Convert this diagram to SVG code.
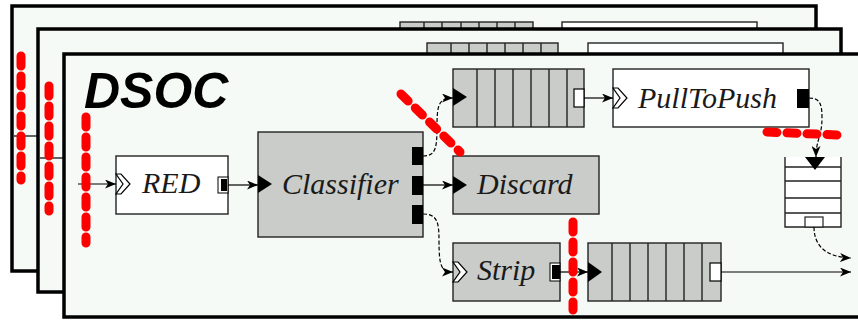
<svg xmlns="http://www.w3.org/2000/svg" width="858" height="320" viewBox="0 0 858 320">
<defs>
<style>
.frame{fill:#f6faf7;stroke:#000;stroke-width:3.5}
.gray{fill:#c9ccc9;stroke:#222;stroke-width:1.4}
.white{fill:#fff;stroke:#222;stroke-width:1.4}
.div{stroke:#222;stroke-width:1.4}
.lbl{font-family:"Liberation Serif",serif;font-style:italic;font-size:30px;fill:#1a1a1a}
.conn{fill:none;stroke:#000;stroke-width:1.2;marker-end:url(#arr)}
.dash{stroke-dasharray:4 2}
.red{fill:none;stroke:#ff0000;stroke-width:9;stroke-linecap:round;stroke-dasharray:10 10}
.pin{fill:#000}
.chev{fill:#fff;stroke:#000;stroke-width:1.2}
</style>
<marker id="arr" viewBox="0 0 11 9" refX="11" refY="4.5" markerWidth="11" markerHeight="9" markerUnits="userSpaceOnUse" orient="auto">
<path d="M0,0 L11,4.5 L0,9 L3,4.5 z" fill="#000"/>
</marker>
</defs>

<!-- back frame 1 -->
<g id="frame1">
<rect class="frame" x="12" y="6" width="804" height="265"/>
<rect class="gray" x="400" y="22" width="133" height="30"/>
<path class="div" d="M424,22V52M442,22V52M461,22V52M479,22V52M497,22V52M515,22V52"/>
<rect class="white" x="562" y="22" width="195" height="30"/>
<line x1="14" y1="136" x2="38" y2="136" stroke="#000" stroke-width="1.2"/>
</g>

<!-- back frame 2 -->
<g id="frame2">
<rect class="frame" x="38" y="29" width="803" height="263"/>
<rect class="gray" x="427" y="43" width="131" height="30"/>
<path class="div" d="M451,43V73M469,43V73M487,43V73M505,43V73M523,43V73M541,43V73"/>
<rect class="white" x="588" y="43" width="195" height="30"/>
<line x1="40" y1="158" x2="64" y2="158" stroke="#000" stroke-width="1.2"/>
</g>

<!-- front frame 3 -->
<g id="frame3">
<rect class="frame" x="64" y="54" width="820" height="263"/>
<text x="84" y="108" font-family="Liberation Sans, Arial, sans-serif" font-weight="bold" font-style="italic" font-size="50" fill="#000">DSOC</text>
</g>

<g id="RED">
<rect class="white" x="116" y="156" width="112" height="58"/>
<path class="chev" d="M116,174 L121,174 L130,184 L121,194 L116,194 L123,184 z"/>
<rect x="218" y="177" width="10" height="16" fill="#fff" stroke="#000" stroke-width="1"/>
<rect class="pin" x="221" y="179" width="6" height="12"/>
<text class="lbl" x="142" y="193">RED</text>
</g>

<g id="Classifier">
<rect class="gray" x="258" y="132" width="165" height="105"/>
<path class="pin" d="M258,175 L272,184 L258,193 z"/>
<rect class="pin" x="412" y="147" width="11" height="18"/>
<rect class="pin" x="412" y="176" width="11" height="19"/>
<rect class="pin" x="412" y="205" width="11" height="19"/>
<text class="lbl" x="282" y="194">Classifier</text>
</g>

<g id="Queue1">
<rect class="gray" x="453" y="69" width="131" height="58"/>
<path class="div" d="M477,69V127M495,69V127M513,69V127M531,69V127M549,69V127M567,69V127"/>
<path class="pin" d="M453,88 L467,97 L453,106 z"/>
<rect x="574" y="89" width="10" height="18" fill="#fff" stroke="#000" stroke-width="1.2"/>
</g>

<g id="PullToPush">
<rect class="white" x="613" y="69" width="196" height="58"/>
<path class="chev" d="M613,88 L618,88 L627,98 L618,108 L613,108 L620,98 z"/>
<rect class="pin" x="797" y="89" width="12" height="19"/>
<text class="lbl" x="638" y="108">PullToPush</text>
</g>

<g id="Discard">
<rect class="gray" x="453" y="156" width="146" height="58"/>
<path class="pin" d="M453,176 L467,185 L453,194 z"/>
<text class="lbl" x="477" y="194">Discard</text>
</g>

<g id="Strip">
<rect class="gray" x="453" y="243" width="107" height="58"/>
<path class="chev" d="M453,262 L458,262 L467,272 L458,282 L453,282 L460,272 z"/>
<rect x="550" y="263" width="10" height="18" fill="#fff" stroke="#000" stroke-width="1"/>
<rect class="pin" x="552" y="265" width="8" height="14"/>
<text class="lbl" x="477" y="280">Strip</text>
</g>

<g id="Queue2">
<rect class="gray" x="588" y="243" width="133" height="58"/>
<path class="div" d="M612,243V301M630,243V301M648,243V301M666,243V301M684,243V301M702,243V301"/>
<path class="pin" d="M588,262 L602,272 L588,282 z"/>
<rect x="710" y="263" width="11" height="18" fill="#fff" stroke="#000" stroke-width="1.2"/>
</g>

<g id="Queue3">
<path d="M785,157V227H841V157M785,167H841M785,181H841M785,198H841M785,213H841" fill="#fff" stroke="#222" stroke-width="1.4"/>
<path class="pin" d="M805,157 L825,157 L815,170 z"/>
<rect x="805" y="217" width="18" height="10" fill="#fff" stroke="#222" stroke-width="1.2"/>
</g>

<g id="connectors">
<path class="conn" d="M78,184 H116"/>
<path class="conn" d="M228,185 H258"/>
<path class="conn dash" d="M423,156 C436,156 437,148 437,125 C437,103 440,98 453,98"/>
<path class="conn" d="M423,185 H453"/>
<path class="conn dash" d="M423,214 C437,214 439,222 439,240 C439,266 441,272 453,272"/>
<path class="conn" d="M584,98 H613"/>
<path class="conn dash" d="M809,98 C820,98 822,104 822,118 C822,136 816,140 816,157"/>
<path class="conn" d="M560,272 H588"/>
<path class="conn" d="M721,272 H851"/>
<path class="conn dash" d="M814,227 C814,246 826,257 851,258"/>
</g>

<g id="annotations">
<path class="red" d="M21,56 V180"/>
<path class="red" d="M49,86 V211"/>
<path class="red" d="M86,117 V243"/>
<path class="red" d="M401,94 L460,152"/>
<path class="red" d="M767,132 L838,135"/>
<path class="red" d="M573,222 V310"/>
</g>
</svg>
